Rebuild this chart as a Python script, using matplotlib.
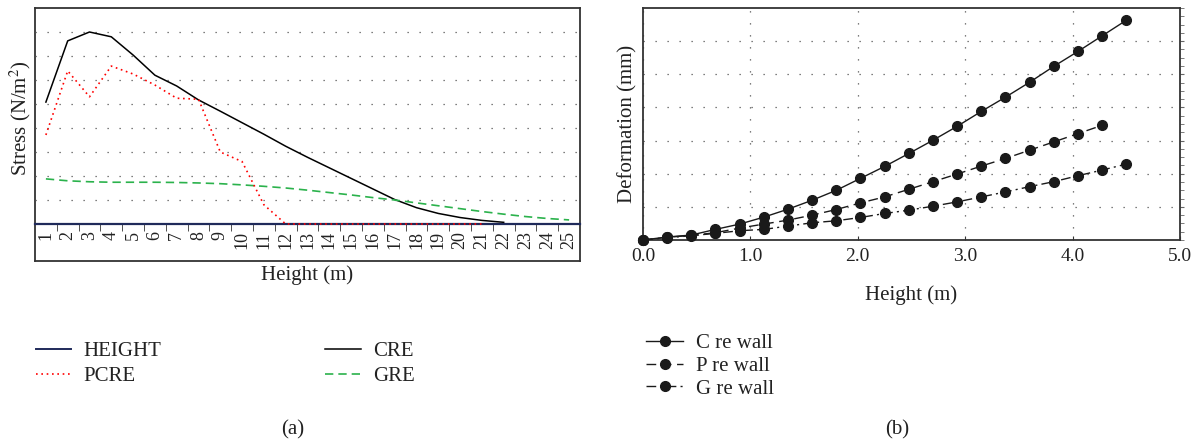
import matplotlib
matplotlib.use("Agg")
import matplotlib.pyplot as plt
from matplotlib.ticker import FixedLocator

plt.rcParams['font.family'] = ['Liberation Serif', 'DejaVu Serif']
plt.rcParams['mathtext.fontset'] = 'stix'

# ---------------- data: panel (a) ----------------
categories = list(range(1, 26))
height_vals = [0] * 25
cre_vals = [5.08, 7.63, 8.0, 7.8, 7.04, 6.2, 5.75, 5.17, 4.7, 4.22, 3.74, 3.24,
            2.78, 2.34, 1.9, 1.46, 1.02, 0.68, 0.44, 0.27, 0.15, 0.07]
pcre_vals = [3.71, 6.38, 5.3, 6.58, 6.25, 5.79, 5.24, 5.2, 3.0, 2.6, 0.8,
             0, 0, 0, 0, 0, 0, 0, 0, 0, 0]
gre_vals = [1.88, 1.8, 1.76, 1.74, 1.74, 1.74, 1.73, 1.71, 1.68, 1.63, 1.57, 1.5,
            1.41, 1.31, 1.21, 1.1, 1.0, 0.88, 0.76, 0.64, 0.52, 0.41, 0.31, 0.23, 0.17]
tick_labels_a = [str(c) for c in categories]

# ---------------- data: panel (b) ----------------
heights_b = [0.0, 0.225, 0.45, 0.675, 0.9, 1.125, 1.35, 1.575, 1.8, 2.025, 2.25,
             2.475, 2.7, 2.925, 3.15, 3.375, 3.6, 3.825, 4.05, 4.275, 4.5]
c_wall = [0, 0.09, 0.15, 0.32, 0.48, 0.69, 0.93, 1.2, 1.5, 1.86, 2.22, 2.61,
          3.01, 3.43, 3.88, 4.31, 4.76, 5.24, 5.69, 6.16, 6.63]
p_wall = [0, 0.08, 0.14, 0.22, 0.36, 0.48, 0.6, 0.75, 0.92, 1.12, 1.3, 1.53,
          1.76, 1.99, 2.23, 2.46, 2.71, 2.96, 3.21, 3.46]
g_wall = [0, 0.07, 0.13, 0.2, 0.28, 0.32, 0.42, 0.52, 0.58, 0.68, 0.8, 0.9,
          1.02, 1.15, 1.3, 1.45, 1.61, 1.76, 1.94, 2.11, 2.29]
xticks_b = [0.0, 1.0, 2.0, 3.0, 4.0, 5.0]

W, H = 1199, 442
fig = plt.figure(figsize=(W / 100, H / 100), dpi=100)

def rect(x0, y0, x1, y1):
    return [x0 / W, 1 - y1 / H, (x1 - x0) / W, (y1 - y0) / H]

spine_col = '#333333'
text_col = '#222222'
dot_style = (0, (1, 8.6))

# ---------------- panel (a) ----------------
frame = fig.add_axes(rect(35, 8, 580, 261))
frame.set_xticks([]); frame.set_yticks([])
frame.patch.set_alpha(0)
for s in frame.spines.values():
    s.set_color(spine_col); s.set_linewidth(1.3)

ax = fig.add_axes(rect(35, 8, 580, 224))
ax.patch.set_alpha(0)
ax.set_xlim(0.5, 25.5)
ax.set_ylim(0, 9)
for side in ['top', 'left', 'right']:
    ax.spines[side].set_visible(False)
ax.spines['bottom'].set_color('#1f2a5a')
ax.spines['bottom'].set_linewidth(1.6)
ax.set_yticks([1, 2, 3, 4, 5, 6, 7, 8])
ax.tick_params(axis='y', left=False, labelleft=False)
ax.grid(axis='y', color='#555555', linestyle=dot_style, linewidth=0.9)
ax.set_xticks(categories)
ax.set_xticklabels(tick_labels_a, rotation=90, fontsize=13, color=text_col)
ax.tick_params(axis='x', which='major', length=0, pad=5)
ax.xaxis.set_minor_locator(FixedLocator([c + 0.5 for c in categories[:-1]]))
ax.tick_params(axis='x', which='minor', length=5, direction='out', color=spine_col)

h_line, = ax.plot(categories, height_vals, color='#1f2a5a', lw=1.4, label='HEIGHT', zorder=2)
c_line, = ax.plot(categories[:len(cre_vals)], cre_vals, color='black', lw=1.1, label='CRE', zorder=3)
p_line, = ax.plot(categories[:len(pcre_vals)], pcre_vals, color='red', lw=1.2,
                  linestyle=(0, (1, 2.2)), label='PCRE', zorder=4, clip_on=False)
g_line, = ax.plot(categories, gre_vals, color='#2bb24c', lw=1.2,
                  linestyle=(0, (5, 3)), label='GRE', zorder=3)

fig.text(20 / W, 1 - 118 / H, 'Stress (N/m$^2$)', rotation=90, ha='center', va='center',
         fontsize=15, color=text_col)
fig.text(307 / W, 1 - 275 / H, 'Height (m)', ha='center', va='center', fontsize=15, color=text_col)

leg_a = fig.legend(handles=[h_line, p_line, c_line, g_line],
                   labels=['HEIGHT', 'PCRE', 'CRE', 'GRE'],
                   ncol=2, frameon=False, fontsize=15,
                   loc='upper left', bbox_to_anchor=(17 / W, 1 - 323 / H),
                   handlelength=1.7, handletextpad=0.6, columnspacing=7.85, labelspacing=0.25)
for t in leg_a.get_texts():
    t.set_color(text_col)

# ---------------- panel (b) ----------------
bx = fig.add_axes(rect(643, 8, 1180, 240))
bx.set_xlim(0, 5)
bx.set_ylim(0, 7)
for s in bx.spines.values():
    s.set_color(spine_col); s.set_linewidth(1.3)
bx.set_xticks(xticks_b)
bx.set_xticklabels(['%.1f' % v for v in xticks_b], fontsize=14, color=text_col)
bx.tick_params(axis='x', direction='in', length=3, pad=6, color=spine_col)
bx.set_yticks([1, 2, 3, 4, 5, 6])
bx.yaxis.set_minor_locator(FixedLocator([i * 0.25 for i in range(29)]))
bx.tick_params(axis='y', which='both', left=False, right=True, labelleft=False,
               direction='out', length=3, color='#666666')
bx.grid(True, color='#555555', linestyle=dot_style, linewidth=0.9)

mk = dict(marker='o', markersize=7, color='#1a1a1a', markerfacecolor='#1a1a1a', clip_on=False)
l1, = bx.plot(heights_b, c_wall, linestyle='-', lw=1.0, label='C re wall', zorder=5, **mk)
l2, = bx.plot(heights_b[:len(p_wall)], p_wall, linestyle=(0, (7, 4)), lw=1.0, label='P re wall', zorder=4, **mk)
l3, = bx.plot(heights_b, g_wall, linestyle=(0, (7, 3, 1.5, 3)), lw=1.0, label='G re wall', zorder=3, **mk)

fig.text(628 / W, 1 - 124 / H, 'Deformation (mm)', rotation=90, ha='center', va='center',
         fontsize=15, color=text_col)
fig.text(911 / W, 1 - 295 / H, 'Height (m)', ha='center', va='center', fontsize=15, color=text_col)

leg_b = fig.legend(handles=[l1, l2, l3], frameon=False, fontsize=15,
                   loc='upper left', bbox_to_anchor=(627 / W, 1 - 315 / H),
                   handlelength=1.8, handletextpad=0.6, labelspacing=0.15)
for t in leg_b.get_texts():
    t.set_color(text_col)

fig.text(293 / W, 1 - 430 / H, '(a)', ha='center', va='center', fontsize=15, color=text_col)
fig.text(897 / W, 1 - 430 / H, '(b)', ha='center', va='center', fontsize=15, color=text_col)

fig.savefig('out.png', dpi=100)
